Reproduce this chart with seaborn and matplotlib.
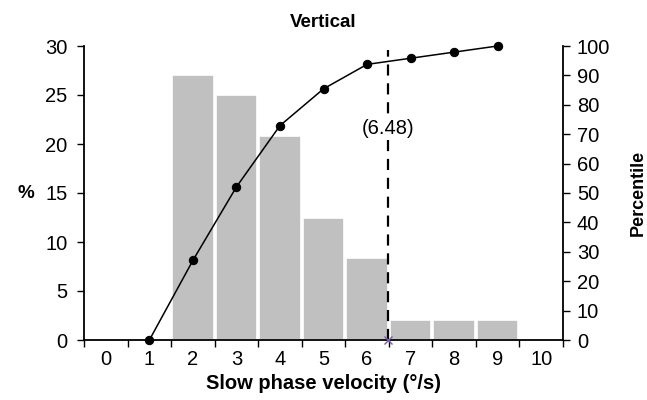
import numpy as np
import pandas as pd
import seaborn as sns
import matplotlib.pyplot as plt
from matplotlib.ticker import MultipleLocator, FixedLocator

# histogram of slow phase velocity (% of samples per bin)
velocity_bins = [2, 3, 4, 5, 6, 7, 8, 9]
pct_values = [27.08, 25.0, 20.83, 12.5, 8.33, 2.08, 2.08, 2.08]

# cumulative percentile
cum_x = [1, 2, 3, 4, 5, 6, 7, 8, 9]
cum_values = [0, 27.08, 52.08, 72.92, 85.42, 93.75, 95.83, 97.92, 100]

threshold = 6.48
x_labels = [str(i) for i in range(11)]

sns.set_style('white')
plt.rcParams['font.family'] = ['Liberation Sans', 'DejaVu Sans']
plt.rcParams['text.color'] = 'black'
plt.rcParams['axes.labelcolor'] = 'black'
plt.rcParams['xtick.color'] = 'black'
plt.rcParams['ytick.color'] = 'black'

fig = plt.figure(figsize=(6.47, 4.0), dpi=100)
ax = fig.add_axes([0.130, 0.15, 0.740, 0.735])

hist_df = pd.DataFrame({'velocity': velocity_bins, 'pct': pct_values})
sns.barplot(data=hist_df, x='velocity', y='pct', native_scale=True,
            color='#c0c0c0', saturation=1, width=0.96,
            edgecolor='white', linewidth=1.2, ax=ax)

ax.set_xlim(-0.5, 10.5)
ax.set_ylim(0, 30)
ax.yaxis.set_major_locator(MultipleLocator(5))
ax.xaxis.set_major_locator(FixedLocator(range(11)))
ax.set_xticklabels(x_labels)
ax.xaxis.set_minor_locator(FixedLocator(np.arange(-0.5, 11, 1.0)))
ax.tick_params(axis='x', which='major', length=0, labelsize=14.5, pad=7)
ax.tick_params(axis='x', which='minor', length=5, width=1, direction='out', bottom=True)
ax.tick_params(axis='y', length=5, width=1, direction='out', left=True,
               labelsize=14.5, pad=7)

ax.set_xlabel('Slow phase velocity (°/s)', fontsize=14.5, fontweight='bold', labelpad=4)
ax.set_ylabel('%', fontsize=13.5, fontweight='bold', rotation=0, labelpad=14, va='center')
ax.set_title('Vertical', fontsize=13.5, fontweight='bold', pad=14)

for side in ['left', 'bottom']:
    ax.spines[side].set_linewidth(1.3)
    ax.spines[side].set_color('black')
ax.spines['top'].set_visible(False)
ax.spines['right'].set_visible(False)

ax2 = ax.twinx()
cum_df = pd.DataFrame({'x': cum_x, 'cum': cum_values})
sns.lineplot(data=cum_df, x='x', y='cum', color='black', marker='o',
             markersize=6, markeredgecolor='black', linewidth=1.1,
             clip_on=False, ax=ax2)
ax2.set_ylim(0, 100)
ax2.yaxis.set_major_locator(MultipleLocator(10))
ax2.tick_params(axis='y', length=5, width=1, direction='out', right=True,
                labelsize=14.5, pad=5)
ax2.set_ylabel('Percentile', fontsize=13, fontweight='bold', labelpad=14)
ax2.spines['right'].set_linewidth(1.3)
ax2.spines['right'].set_color('black')
ax2.spines['top'].set_visible(False)
ax2.spines['left'].set_visible(False)
ax2.spines['bottom'].set_visible(False)

# threshold line
ax.plot([threshold, threshold], [0, 29.6], color='black', linestyle=(0, (5, 3.5)),
        linewidth=1.6, zorder=3)
ax.text(threshold, 21.6, f'({threshold})', ha='center', va='center', fontsize=14.5,
        zorder=4, bbox=dict(facecolor='white', edgecolor='none', pad=0.5))
ax.plot([threshold], [0], marker='x', color='#7a5ea8', markersize=6,
        clip_on=False, zorder=5)

fig.savefig('out.png', dpi=100)
